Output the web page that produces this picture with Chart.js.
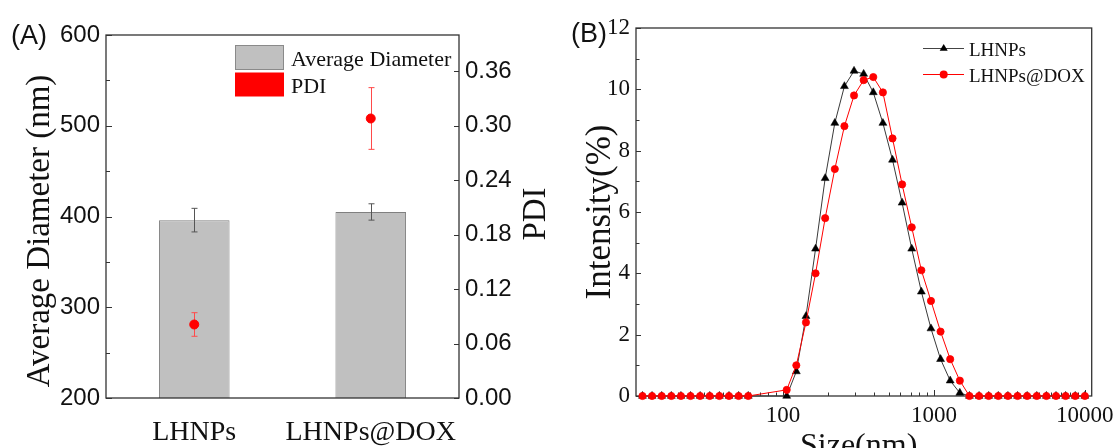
<!DOCTYPE html>
<html>
<head>
<meta charset="utf-8">
<script src="https://cdn.jsdelivr.net/npm/chart.js@4.4.0/dist/chart.umd.min.js"></script>
<style>
  html, body { margin: 0; padding: 0; background: #fff; overflow: hidden; }
  #wrap { position: relative; width: 1120px; height: 448px; }
  canvas { position: absolute; top: 0; }
  #chart-a { left: 0; }
  #chart-b { left: 560px; }
</style>
</head>
<body>
<div id="wrap">
  <canvas id="chart-a" width="560" height="448"></canvas>
  <canvas id="chart-b" width="560" height="448"></canvas>
</div>
<script>
// (A) mean diameter and PDI per formulation
const groups = ["LHNPs", "LHNPs@DOX"];
const diameterMean = [396, 405];
const diameterSd = [13, 9];
const pdiMean = [0.081, 0.308];
const pdiSd = [0.013, 0.034];
const diameterTicks = [200, 300, 400, 500, 600];
const diameterMinorTicks = [250, 350, 450, 550];
const pdiTicks = [0, 0.06, 0.12, 0.18, 0.24, 0.30, 0.36];

// (B) DLS intensity distribution (nm, %)
const sizeBins = [11.70, 13.54, 15.69, 18.17, 21.04, 24.36, 28.21, 32.67, 37.84, 43.82, 50.75, 58.77,
  105.7, 122.4, 141.8, 164.2, 190.1, 220.2, 255.0, 295.3, 342.0, 396.1, 458.7, 531.2, 615.1,
  712.4, 825.0, 955.4, 1106, 1281, 1484,
  1718, 1990, 2305, 2669, 3091, 3580, 4145, 4801, 5560, 6439, 7456, 8635, 10000];
const lhnpsIntensity = [0, 0, 0, 0, 0, 0, 0, 0, 0, 0, 0, 0,
  0, 0.8, 2.6, 4.8, 7.1, 8.9, 10.1, 10.6, 10.5, 9.9, 8.9, 7.7, 6.3,
  4.8, 3.4, 2.2, 1.2, 0.5, 0.1,
  0, 0, 0, 0, 0, 0, 0, 0, 0, 0, 0, 0, 0];
const doxIntensity = [0, 0, 0, 0, 0, 0, 0, 0, 0, 0, 0, 0,
  0.2, 1.0, 2.4, 4.0, 5.8, 7.4, 8.8, 9.8, 10.3, 10.4, 9.9, 8.4, 6.9,
  5.5, 4.1, 3.1, 2.1, 1.2, 0.5,
  0, 0, 0, 0, 0, 0, 0, 0, 0, 0, 0, 0, 0];
const sizeTicks = [100, 1000, 10000];
const intensityTicks = [0, 2, 4, 6, 8, 10, 12];
const intensityMinorTicks = [1, 3, 5, 7, 9, 11];

const serif = '"Liberation Serif", "Times New Roman", serif';
const sans = '"Liberation Sans", Arial, sans-serif';
const frameColor = "#333";
const textColor = "#111";

function drawFrame(chart) {
  const ctx = chart.ctx, a = chart.chartArea;
  ctx.save();
  ctx.strokeStyle = frameColor;
  ctx.lineWidth = 1.3;
  ctx.strokeRect(a.left, a.top, a.right - a.left, a.bottom - a.top);
  ctx.restore();
}

// inward tick marks along one edge of the plot area
function drawTicks(chart, scaleId, values, len, side) {
  const ctx = chart.ctx, a = chart.chartArea, scale = chart.scales[scaleId];
  ctx.save();
  ctx.strokeStyle = frameColor;
  ctx.lineWidth = 1;
  ctx.beginPath();
  values.forEach(v => {
    const p = Math.round(scale.getPixelForValue(v)) + 0.5;
    if (side === "left") { ctx.moveTo(a.left, p); ctx.lineTo(a.left + len, p); }
    else if (side === "right") { ctx.moveTo(a.right, p); ctx.lineTo(a.right - len, p); }
    else { ctx.moveTo(p, a.bottom); ctx.lineTo(p, a.bottom - len); }
  });
  ctx.stroke();
  ctx.restore();
}

function drawText(ctx, text, x, y, font, rotate) {
  ctx.save();
  ctx.font = font;
  ctx.fillStyle = textColor;
  ctx.translate(x, y);
  if (rotate) ctx.rotate(-Math.PI / 2);
  ctx.textAlign = rotate ? "center" : "left";
  ctx.textBaseline = "alphabetic";
  ctx.fillText(text, 0, 0);
  ctx.restore();
}

function drawErrorBars(chart, datasetIndex, means, sds, color) {
  const ctx = chart.ctx;
  const meta = chart.getDatasetMeta(datasetIndex);
  const yScale = chart.scales[meta.yAxisID];
  ctx.save();
  ctx.strokeStyle = color;
  ctx.lineWidth = 1;
  ctx.beginPath();
  meta.data.forEach((el, i) => {
    const x = Math.round(el.x) + 0.5;
    const top = yScale.getPixelForValue(means[i] + sds[i]);
    const bot = yScale.getPixelForValue(means[i] - sds[i]);
    ctx.moveTo(x, top); ctx.lineTo(x, bot);
    ctx.moveTo(x - 3, top); ctx.lineTo(x + 3, top);
    ctx.moveTo(x - 3, bot); ctx.lineTo(x + 3, bot);
  });
  ctx.stroke();
  ctx.restore();
}

const panelA = {
  id: "panelA",
  afterDatasetDraw(chart, args) {
    if (args.index !== 0) return;
    drawErrorBars(chart, 0, diameterMean, diameterSd, "#555");
    drawErrorBars(chart, 1, pdiMean, pdiSd, "#ff4a4a");
  },
  afterDraw(chart) {
    const ctx = chart.ctx;
    drawFrame(chart);
    drawTicks(chart, "y", diameterTicks, 6, "left");
    drawTicks(chart, "y", diameterMinorTicks, 4, "left");
    drawTicks(chart, "y1", pdiTicks, 5, "right");

    // legend
    ctx.save();
    ctx.fillStyle = "#c0c0c0";
    ctx.strokeStyle = "#8a8a8a";
    ctx.lineWidth = 1;
    ctx.fillRect(235.5, 45.5, 48, 24);
    ctx.strokeRect(235.5, 45.5, 48, 24);
    ctx.fillStyle = "#ff0000";
    ctx.fillRect(235, 72.5, 49, 24);
    ctx.restore();
    drawText(ctx, "Average Diameter", 291, 65.5, "22px " + serif, false);
    drawText(ctx, "PDI", 291, 92.5, "22px " + serif, false);

    drawText(ctx, "(A)", 11, 44, "27px " + sans, false);
    drawText(ctx, "Average Diameter (nm)", 49, 231, "33px " + serif, true);
    drawText(ctx, "PDI", 545, 214, "33px " + serif, true);
  }
};

const panelB = {
  id: "panelB",
  beforeDatasetsDraw(chart) {
    drawFrame(chart);
    drawTicks(chart, "y", intensityTicks, 5, "left");
    drawTicks(chart, "y", intensityMinorTicks, 3.5, "left");
    const minor = [];
    [10, 100, 1000].forEach(d => {
      for (let m = 2; m <= 9; m++) minor.push(m * d);
    });
    drawTicks(chart, "x", sizeTicks, 6, "bottom");
    drawTicks(chart, "x", minor, 3.5, "bottom");
  },
  afterDraw(chart) {
    const ctx = chart.ctx;
    // legend: line with marker
    ctx.save();
    ctx.lineWidth = 1;
    ctx.strokeStyle = "#444";
    ctx.beginPath(); ctx.moveTo(363, 48.5); ctx.lineTo(404, 48.5); ctx.stroke();
    ctx.fillStyle = "#000";
    ctx.beginPath();
    ctx.moveTo(383.7, 43.9); ctx.lineTo(387.7, 50.8); ctx.lineTo(379.7, 50.8); ctx.closePath();
    ctx.fill();
    ctx.strokeStyle = "#ff0000";
    ctx.beginPath(); ctx.moveTo(363, 74.5); ctx.lineTo(404, 74.5); ctx.stroke();
    ctx.fillStyle = "#ff0000";
    ctx.beginPath(); ctx.arc(383.7, 74.5, 4, 0, Math.PI * 2); ctx.fill();
    ctx.restore();
    drawText(ctx, "LHNPs", 409, 56, "19px " + serif, false);
    drawText(ctx, "LHNPs@DOX", 409, 81.5, "19px " + serif, false);

    drawText(ctx, "(B)", 11, 42, "27px " + sans, false);
    drawText(ctx, "Intensity(%)", 50, 212, "35px " + serif, true);
    drawText(ctx, "Size(nm)", 240, 455, "32px " + serif, false);
  }
};

new Chart(document.getElementById("chart-a"), {
  type: "bar",
  data: {
    labels: groups,
    datasets: [
      {
        type: "bar",
        label: "Average Diameter",
        data: diameterMean,
        yAxisID: "y",
        backgroundColor: "#c0c0c0",
        borderColor: "#808080",
        borderWidth: 1,
        barPercentage: 0.4,
        categoryPercentage: 1,
        order: 2
      },
      {
        type: "line",
        label: "PDI",
        data: pdiMean,
        yAxisID: "y1",
        showLine: false,
        pointRadius: 4.5,
        pointBackgroundColor: "#ff0000",
        pointBorderColor: "#ff0000",
        order: 1
      }
    ]
  },
  options: {
    responsive: false,
    animation: false,
    devicePixelRatio: 1,
    layout: { padding: { top: 35, left: 0, right: 0, bottom: 0 } },
    plugins: { legend: { display: false }, tooltip: { enabled: false } },
    scales: {
      x: {
        grid: { display: false, drawTicks: false },
        border: { display: false },
        ticks: { font: { family: serif, size: 28 }, color: textColor, padding: 18 },
        afterFit: s => { s.height = 50; }
      },
      y: {
        position: "left",
        min: 200,
        max: 600,
        grid: { display: false, drawTicks: false },
        border: { display: false },
        ticks: { stepSize: 100, font: { family: sans, size: 24 }, color: textColor, padding: 6 },
        afterBuildTicks: s => { s.ticks = diameterTicks.map(v => ({ value: v })); },
        afterFit: s => { s.width = 106; }
      },
      y1: {
        position: "right",
        min: 0,
        max: 0.4,
        grid: { display: false, drawTicks: false },
        border: { display: false },
        ticks: {
          font: { family: sans, size: 24 },
          color: textColor,
          padding: 6,
          callback: v => v.toFixed(2)
        },
        afterBuildTicks: s => { s.ticks = pdiTicks.map(v => ({ value: v })); },
        afterFit: s => { s.width = 101; }
      }
    }
  },
  plugins: [panelA]
});

new Chart(document.getElementById("chart-b"), {
  type: "line",
  data: {
    datasets: [
      {
        label: "LHNPs",
        data: sizeBins.map((x, i) => ({ x: x, y: lhnpsIntensity[i] })),
        borderColor: "#3a3a3a",
        borderWidth: 1,
        pointStyle: "triangle",
        pointRadius: 4.6,
        pointBackgroundColor: "#000",
        pointBorderColor: "#000",
        pointBorderWidth: 0.5,
        clip: false,
        order: 2
      },
      {
        label: "LHNPs@DOX",
        data: sizeBins.map((x, i) => ({ x: x, y: doxIntensity[i] })),
        borderColor: "#ff0000",
        borderWidth: 1,
        pointStyle: "circle",
        pointRadius: 3.6,
        pointBackgroundColor: "#ff0000",
        pointBorderColor: "#ff0000",
        pointBorderWidth: 0.8,
        clip: false,
        order: 1
      }
    ]
  },
  options: {
    responsive: false,
    animation: false,
    devicePixelRatio: 1,
    layout: { padding: { top: 28, left: 0, right: 26, bottom: 0 } },
    plugins: { legend: { display: false }, tooltip: { enabled: false } },
    scales: {
      x: {
        type: "logarithmic",
        min: 10.6,
        max: 11100,
        grid: { display: false, drawTicks: false },
        border: { display: false },
        ticks: {
          font: { family: serif, size: 23 },
          color: textColor,
          padding: 6,
          autoSkip: false,
          maxRotation: 0,
          callback: v => String(v)
        },
        afterBuildTicks: s => { s.ticks = sizeTicks.map(v => ({ value: v })); },
        afterFit: s => { s.height = 52; }
      },
      y: {
        min: 0,
        max: 12,
        grid: { display: false, drawTicks: false },
        border: { display: false },
        ticks: { stepSize: 2, font: { family: serif, size: 23 }, color: textColor, padding: 6 },
        afterBuildTicks: s => { s.ticks = intensityTicks.map(v => ({ value: v })); },
        afterFit: s => { s.width = 76; }
      }
    }
  },
  plugins: [panelB]
});
</script>
</body>
</html>
